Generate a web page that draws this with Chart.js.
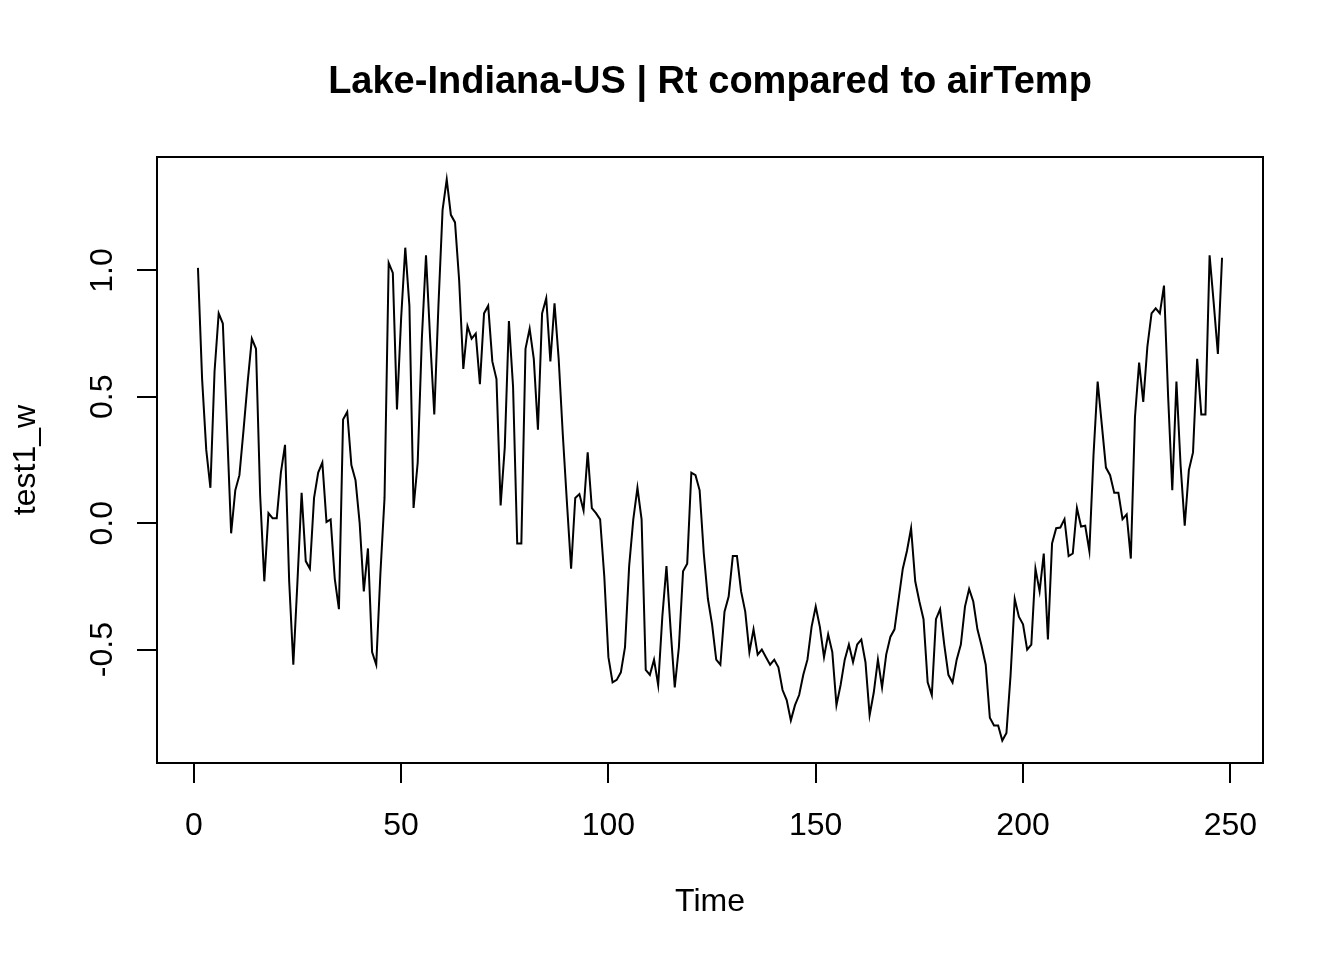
<!DOCTYPE html>
<html>
<head>
<meta charset="utf-8">
<title>Lake-Indiana-US | Rt compared to airTemp</title>
<script src="https://cdn.jsdelivr.net/npm/chart.js@4.4.1/dist/chart.umd.min.js"></script>
<style>
  html, body { margin: 0; padding: 0; background: #fff; }
  #wrap { width: 1344px; height: 960px; position: relative; }
</style>
</head>
<body>
<div id="wrap"><canvas id="rt-chart"></canvas></div>
<script>
// values, one per time step (1..248)
var test1W = [
  1.01, 0.57, 0.29, 0.14, 0.60, 0.83, 0.79, 0.38, -0.04, 0.13,
  0.19, 0.37, 0.56, 0.73, 0.69, 0.11, -0.23, 0.04, 0.02, 0.02,
  0.20, 0.31, -0.23, -0.56, -0.23, 0.12, -0.15, -0.18, 0.10, 0.20,
  0.24, 0.005, 0.015, -0.22, -0.34, 0.41, 0.44, 0.23, 0.17, 0.00,
  -0.27, -0.10, -0.51, -0.56, -0.20, 0.10, 1.03, 0.99, 0.45, 0.81,
  1.09, 0.86, 0.06, 0.24, 0.73, 1.06, 0.73, 0.43, 0.86, 1.24,
  1.36, 1.22, 1.19, 0.96, 0.61, 0.78, 0.73, 0.75, 0.55, 0.83,
  0.86, 0.64, 0.57, 0.07, 0.30, 0.80, 0.54, -0.08, -0.08, 0.69,
  0.77, 0.65, 0.37, 0.83, 0.89, 0.64, 0.87, 0.65, 0.35, 0.08,
  -0.18, 0.10, 0.115, 0.05, 0.28, 0.06, 0.04, 0.015, -0.21, -0.53,
  -0.63, -0.62, -0.59, -0.49, -0.17, 0.015, 0.14, 0.015, -0.58, -0.60,
  -0.54, -0.64, -0.37, -0.17, -0.42, -0.65, -0.49, -0.19, -0.16, 0.20,
  0.19, 0.13, -0.12, -0.30, -0.40, -0.54, -0.56, -0.35, -0.29, -0.13,
  -0.13, -0.27, -0.35, -0.51, -0.42, -0.52, -0.50, -0.53, -0.56, -0.54,
  -0.57, -0.66, -0.70, -0.78, -0.72, -0.68, -0.60, -0.54, -0.41, -0.33,
  -0.41, -0.53, -0.44, -0.51, -0.72, -0.64, -0.54, -0.48, -0.55, -0.48,
  -0.46, -0.55, -0.76, -0.67, -0.54, -0.65, -0.52, -0.45, -0.42, -0.30,
  -0.18, -0.11, -0.02, -0.23, -0.31, -0.38, -0.63, -0.68, -0.38, -0.34,
  -0.48, -0.60, -0.63, -0.54, -0.48, -0.33, -0.26, -0.31, -0.42, -0.485,
  -0.56, -0.77, -0.80, -0.80, -0.86, -0.83, -0.60, -0.30, -0.37, -0.40,
  -0.50, -0.48, -0.18, -0.27, -0.12, -0.46, -0.08, -0.02, -0.017, 0.016,
  -0.13, -0.12, 0.06, -0.013, -0.01, -0.11, 0.27, 0.56, 0.39, 0.22,
  0.19, 0.12, 0.12, 0.016, 0.035, -0.14, 0.42, 0.635, 0.48, 0.70,
  0.83, 0.85, 0.83, 0.94, 0.50, 0.13, 0.56, 0.23, -0.01, 0.21,
  0.28, 0.65, 0.43, 0.43, 1.06, 0.87, 0.67, 1.05
];
var xTicks = [0, 50, 100, 150, 200, 250];
var xTickLabels = ['0', '50', '100', '150', '200', '250'];
var yTicks = [-0.5, 0, 0.5, 1];
var yTickLabels = ['-0.5', '0.0', '0.5', '1.0'];
var titleText = 'Lake-Indiana-US | Rt compared to airTemp';
var xTitle = 'Time';
var yTitle = 'test1_w';

// time index is just the position in the series
var points = test1W.map(function (v, i) { return { x: i + 1, y: v }; });

// R pads the data range by 4% on each side
var xMin = 1, xMax = test1W.length;
var yLo = Math.min.apply(null, test1W), yHi = Math.max.apply(null, test1W);
var xPad = (xMax - xMin) * 0.04, yPad = (yHi - yLo) * 0.04;

var FONT = '"Liberation Sans", Arial, Helvetica, sans-serif';

// box, tick labels and titles, R base-graphics style
var rStyle = {
  id: 'rStyle',
  afterDraw: function (chart) {
    var ctx = chart.ctx, a = chart.chartArea;
    var xs = chart.scales.x, ys = chart.scales.y;
    var cx = (a.left + a.right) / 2, cy = (a.top + a.bottom) / 2;
    ctx.save();
    ctx.strokeStyle = '#000';
    ctx.lineWidth = 2;
    ctx.strokeRect(a.left, a.top, a.right - a.left, a.bottom - a.top);

    ctx.fillStyle = '#000';
    ctx.textAlign = 'center';
    ctx.textBaseline = 'alphabetic';
    ctx.font = 'bold 38px ' + FONT;
    ctx.fillText(titleText, cx, 93);

    ctx.font = '32px ' + FONT;
    xTicks.forEach(function (v, i) {
      ctx.fillText(xTickLabels[i], xs.getPixelForValue(v), 835);
    });
    ctx.fillText(xTitle, cx, 911);

    yTicks.forEach(function (v, i) {
      ctx.save();
      ctx.translate(112, ys.getPixelForValue(v));
      ctx.rotate(-Math.PI / 2);
      ctx.fillText(yTickLabels[i], 0, 0);
      ctx.restore();
    });
    ctx.save();
    ctx.translate(35, cy);
    ctx.rotate(-Math.PI / 2);
    ctx.fillText(yTitle, 0, 0);
    ctx.restore();
    ctx.restore();
  }
};

var tickMarks = {
  display: true,
  drawOnChartArea: false,
  drawTicks: true,
  tickLength: 20,
  color: '#000',
  lineWidth: 2
};

var ctx = document.getElementById('rt-chart').getContext('2d');
var chart = new Chart(ctx, {
  type: 'line',
  data: {
    datasets: [{
      label: yTitle,
      data: points,
      borderColor: '#000',
      borderWidth: 2,
      pointRadius: 0,
      tension: 0,
      fill: false
    }]
  },
  options: {
    responsive: true,
    maintainAspectRatio: false,
    devicePixelRatio: 1,
    animation: false,
    layout: { padding: { top: 157, right: 81, left: 0, bottom: 0 } },
    plugins: { legend: { display: false }, tooltip: { enabled: false }, title: { display: false } },
    scales: {
      x: {
        type: 'linear',
        min: xMin - xPad,
        max: xMax + xPad,
        grid: tickMarks,
        border: { display: false },
        ticks: { display: false },
        afterBuildTicks: function (s) { s.ticks = xTicks.map(function (v) { return { value: v }; }); },
        afterFit: function (s) { s.height = 197; }
      },
      y: {
        type: 'linear',
        min: yLo - yPad,
        max: yHi + yPad,
        grid: tickMarks,
        border: { display: false },
        ticks: { display: false },
        afterBuildTicks: function (s) { s.ticks = yTicks.map(function (v) { return { value: v }; }); },
        afterFit: function (s) { s.width = 157; }
      }
    }
  },
  plugins: [rStyle]
});
</script>
</body>
</html>
